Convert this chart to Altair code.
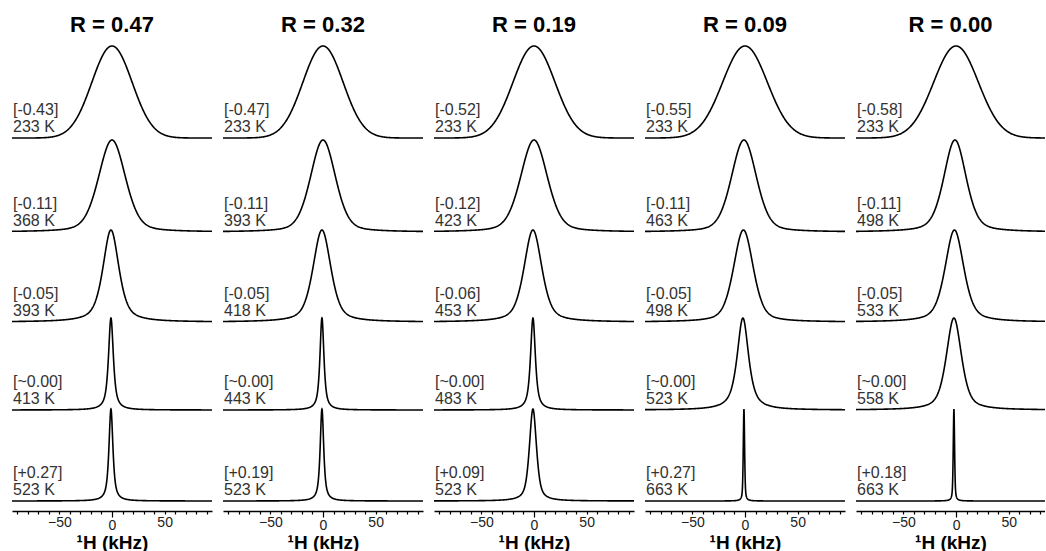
import numpy as np
import pandas as pd
import altair as alt

# Heating series of 1H static NMR spectra, one column per R value
R_VALUES = ["0.47", "0.32", "0.19", "0.09", "0.00"]

SHIFT_LABELS = [
    ["[-0.43]", "[-0.11]", "[-0.05]", "[~0.00]", "[+0.27]"],
    ["[-0.47]", "[-0.11]", "[-0.05]", "[~0.00]", "[+0.19]"],
    ["[-0.52]", "[-0.12]", "[-0.06]", "[~0.00]", "[+0.09]"],
    ["[-0.55]", "[-0.11]", "[-0.05]", "[~0.00]", "[+0.27]"],
    ["[-0.58]", "[-0.11]", "[-0.05]", "[~0.00]", "[+0.18]"],
]

TEMPERATURES_K = [
    [233, 368, 393, 413, 523],
    [233, 393, 418, 443, 523],
    [233, 423, 453, 483, 523],
    [233, 463, 498, 523, 663],
    [233, 498, 533, 558, 663],
]

# full width at half maximum of each trace (kHz)
FWHM_KHZ = [
    [45, 30, 18, 5.5, 4.5],
    [45, 28, 20, 4.5, 4.0],
    [47, 30, 20, 5.5, 8.0],
    [50, 28, 22, 13, 1.5],
    [50, 25, 21, 17, 1.5],
]

# Lorentzian share of the pseudo-Voigt line shape
LORENTZ_FRACTION = [
    [0.0, 0.3, 0.6, 0.8, 0.8],
    [0.0, 0.3, 0.5, 0.8, 0.8],
    [0.0, 0.3, 0.5, 0.8, 0.6],
    [0.0, 0.3, 0.4, 0.75, 0.5],
    [0.0, 0.4, 0.5, 0.55, 0.5],
]

# peak position (kHz)
CENTRE_KHZ = [
    [0.0, 0.0, -1.0, -1.0, -1.0],
    [0.0, 0.0, -1.0, -1.0, -1.0],
    [0.0, 0.0, -1.0, -1.0, -1.0],
    [0.0, -1.0, -1.5, -2.0, -1.0],
    [0.0, -1.0, -1.5, -2.0, -2.0],
]

X_MIN, X_MAX = -95.0, 95.0
ROW_BASE = [373, 279, 189, 101, 10]   # vertical offset of each trace
PEAK_HEIGHT = 92
Y_TOP = 470
FONT = "Liberation Sans"

x_grid = np.unique(np.concatenate([
    np.arange(X_MIN, X_MAX + 0.001, 0.5),
    np.arange(-12.0, 12.0 + 0.001, 0.1),
]))


def line_shape(x, centre, fwhm, eta):
    u = (x - centre) / fwhm
    gauss = np.exp(-4.0 * np.log(2.0) * u ** 2)
    lorentz = 1.0 / (1.0 + 4.0 * u ** 2)
    return eta * lorentz + (1.0 - eta) * gauss


def panel(col, x_right, width):
    traces = []
    labels = []
    for row in range(5):
        y = ROW_BASE[row] + PEAK_HEIGHT * line_shape(
            x_grid, CENTRE_KHZ[col][row], FWHM_KHZ[col][row], LORENTZ_FRACTION[col][row]
        )
        traces.append(pd.DataFrame({"x": x_grid, "y": y, "row": row}))
        labels.append({"x": X_MIN, "y": ROW_BASE[row] + 23, "label": SHIFT_LABELS[col][row]})
        labels.append({"x": X_MIN, "y": ROW_BASE[row] + 6, "label": f"{TEMPERATURES_K[col][row]} K"})
    df = pd.concat(traces, ignore_index=True)
    lab = pd.DataFrame(labels)

    xs = alt.Scale(domain=[X_MIN, x_right], nice=False, zero=False)
    ys = alt.Scale(domain=[0, Y_TOP], nice=False, zero=False)
    ticks = [v for v in range(-90, 91, 10) if v <= x_right]

    x_axis = alt.Axis(
        values=ticks,
        labelExpr="datum.value % 50 === 0 ? datum.label : ''",
        labelOverlap=False,
        labelFlush=False,
        tickSize={"condition": {"test": "datum.value === 0", "value": 6}, "value": 3},
        title="¹H (kHz)",
        titleY=37,
        titleBaseline="alphabetic",
    )

    lines = alt.Chart(df).mark_line(color="black", strokeWidth=1.6, clip=True).encode(
        x=alt.X("x:Q", scale=xs, axis=x_axis),
        y=alt.Y("y:Q", scale=ys, axis=None),
        detail="row:N",
    )
    text = alt.Chart(lab).mark_text(
        align="left", baseline="alphabetic", font=FONT, fontSize=16, color="#333333", dx=1
    ).encode(
        x=alt.X("x:Q", scale=xs, axis=x_axis),
        y=alt.Y("y:Q", scale=ys, axis=None),
        text="label:N",
    )
    return alt.layer(lines, text).properties(
        width=width,
        height=Y_TOP,
        title=alt.TitleParams(
            f"R = {R_VALUES[col]}", fontSize=22, fontWeight="bold", font=FONT,
            anchor="middle", baseline="alphabetic", offset=-13, color="black",
        ),
    )


panels = [panel(c, X_MAX, 200) for c in range(4)]
panels.append(panel(4, 84.5, 189))

chart = (
    alt.hconcat(*panels, spacing=11)
    .properties(padding={"left": 12, "top": 14, "right": 0, "bottom": 0}, background="white")
    .configure_view(stroke=None)
    .configure_axis(
        grid=False,
        domainColor="black",
        domainWidth=1.5,
        tickColor="black",
        tickWidth=1.2,
        labelFont=FONT,
        labelFontSize=14,
        labelColor="#222222",
        labelPadding=1,
        labelOverlap=False,
        titleFont=FONT,
        titleFontSize=19,
        titleFontWeight="bold",
        titleColor="black",
        titlePadding=0,
    )
)

chart.save("out.html", embed_options={"renderer": "svg", "actions": False})
